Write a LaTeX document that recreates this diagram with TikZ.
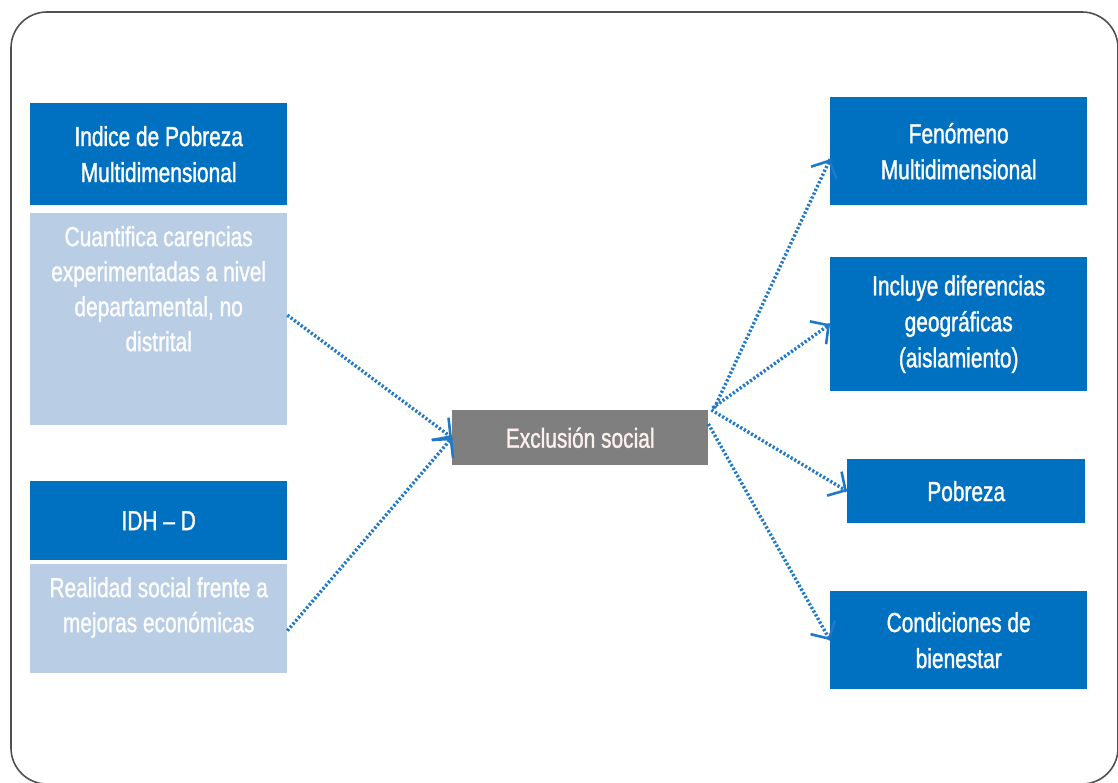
\documentclass[tikz,border=0pt]{standalone}
\usepackage{fontspec}
\setmainfont{Liberation Sans}[FakeStretch=0.76,FakeBold=1.2]
\usetikzlibrary{arrows.meta,decorations.markings}
\definecolor{dblue}{HTML}{0070C0}
\definecolor{lblue}{HTML}{B9CDE5}
\definecolor{cgray}{HTML}{7F7F7F}
\definecolor{ablue}{HTML}{1F78C8}
\definecolor{framec}{HTML}{505050}
\tikzset{
  dbox/.style={fill=dblue, draw=none, text=white, align=center, inner sep=0pt,
    font=\fontsize{27.5}{36}\selectfont},
  lbox/.style={fill=lblue, draw=none, inner sep=0pt},
  ltxt/.style={text=white!96!lblue, align=center, inner sep=0pt,
    font=\fontsize{27.5}{35}\selectfont},
  cbox/.style={fill=cgray, draw=none, text=white!94!red, inner sep=0pt,
    font=\fontsize{27.5}{36}\selectfont},
  conn/.style={draw=ablue, line width=3.4pt, dash pattern=on 2.2pt off 2pt,
    postaction={decorate},
    decoration={markings, mark=at position 1 with
      {\arrow[solid, ablue]{Straight Barb[length=13pt,width=28pt,line width=2.6pt]}}}},
}
\begin{document}
\begin{tikzpicture}[x=1pt,y=-1pt]
\useasboundingbox (0,0) rectangle (1118,783);
\draw[framec, line width=1.6pt, rounded corners=36pt] (11,12) rectangle (1118,784);

% left column
\node[dbox, minimum width=257, minimum height=102, anchor=north west] (a) at (30,103)
  {Indice de Pobreza\\Multidimensional};
\node[lbox, minimum width=257, minimum height=212, anchor=north west] (a2) at (30,213) {};
\node[ltxt, anchor=north] (a2t) at ([yshift=-13pt]a2.north)
  {Cuantifica carencias\\experimentadas a nivel\\departamental, no\\distrital};

\node[dbox, minimum width=257, minimum height=79, anchor=north west] (b) at (30,481)
  {IDH -- D};
\node[lbox, minimum width=257, minimum height=109, anchor=north west] (b2) at (30,564) {};
\node[ltxt, anchor=north] (b2t) at ([yshift=-13pt]b2.north)
  {Realidad social frente a\\mejoras económicas};

% center
\node[cbox, minimum width=256, minimum height=55, anchor=north west] (c) at (452,410)
  {Exclusión social};

% right column
\node[dbox, minimum width=257, minimum height=108, anchor=north west] (r1) at (830,97)
  {Fenómeno\\Multidimensional};
\node[dbox, minimum width=257, minimum height=134, anchor=north west] (r2) at (830,257)
  {Incluye diferencias\\geográficas\\(aislamiento)};
\node[dbox, minimum width=238, minimum height=64, anchor=north west] (r3) at (847,459)
  {Pobreza};
\node[dbox, minimum width=257, minimum height=98, anchor=north west] (r4) at (830,591)
  {Condiciones de\\bienestar};

% connectors
\draw[conn] ([yshift=4pt]a2.east) -- (c.west);
\draw[conn] ([yshift=-12pt]b2.east) -- (c.west);
\draw[conn] ([xshift=6pt,yshift=2pt]c.north east) -- ([yshift=-8pt]r1.west);
\draw[conn] ([xshift=4pt,yshift=2pt]c.north east) -- (r2.west);
\draw[conn] ([xshift=3pt]c.north east) -- (r3.west);
\draw[conn] ([yshift=-14pt]c.north east) -- (r4.west);
\end{tikzpicture}
\end{document}
